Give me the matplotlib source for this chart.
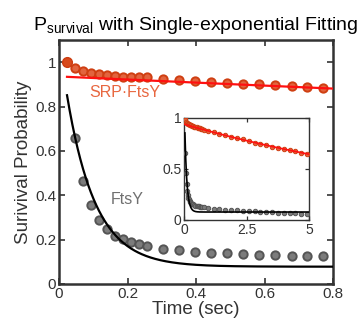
import numpy as np
import matplotlib
matplotlib.use("Agg")
import matplotlib.pyplot as plt

plt.rcParams['font.family'] = ['Liberation Sans', 'DejaVu Sans']
plt.rcParams['mathtext.fontset'] = 'custom'
plt.rcParams['mathtext.rm'] = 'Liberation Sans'

# ---- data ----
time_main = [0.0234, 0.0468, 0.0702, 0.0936, 0.117, 0.140, 0.164, 0.187, 0.211, 0.234,
             0.257, 0.304, 0.351, 0.398, 0.444, 0.491, 0.538, 0.585, 0.632, 0.679,
             0.725, 0.772]
srp_main = [1.000, 0.976, 0.961, 0.952, 0.949, 0.943, 0.940, 0.934, 0.932, 0.932,
            0.931, 0.922, 0.919, 0.913, 0.910, 0.907, 0.902, 0.900, 0.896, 0.892,
            0.889, 0.884]
ftsy_main = [1.000, 0.656, 0.464, 0.356, 0.288, 0.246, 0.218, 0.201, 0.189, 0.179,
             0.170, 0.158, 0.152, 0.146, 0.141, 0.138, 0.135, 0.132, 0.129, 0.128,
             0.128, 0.126]

# extra long-time points shown only in the inset
time_long = [0.94, 1.17, 1.40, 1.64, 1.87, 2.11, 2.34, 2.57, 2.81, 3.04, 3.28, 3.51,
             3.74, 3.98, 4.21, 4.45, 4.68, 4.91]
srp_long = [0.872, 0.857, 0.842, 0.827, 0.813, 0.798, 0.787, 0.772, 0.757, 0.744,
            0.731, 0.718, 0.706, 0.694, 0.682, 0.670, 0.658, 0.648]
ftsy_long = [0.118, 0.112, 0.106, 0.102, 0.098, 0.094, 0.090, 0.087, 0.084, 0.080,
             0.077, 0.075, 0.072, 0.070, 0.067, 0.064, 0.062, 0.060]

# single-exponential fit parameters: y = amp * exp(-rate * (t - t0)) + offset
fit_t0 = 0.0234
srp_fit_amp, srp_fit_rate, srp_fit_offset = 0.934, 0.0752, 0.0
ftsy_fit_amp, ftsy_fit_rate, ftsy_fit_offset = 0.773, 12.0, 0.078

main_xticks = [0, 0.2, 0.4, 0.6, 0.8]
main_xticklabels = ['0', '0.2', '0.4', '0.6', '0.8']
main_yticks = [0, 0.2, 0.4, 0.6, 0.8, 1.0]
main_yticklabels = ['0', '0.2', '0.4', '0.6', '0.8', '1']
inset_xticks = [0, 2.5, 5]
inset_xticklabels = ['0', '2.5', '5']
inset_yticks = [0, 0.5, 1]
inset_yticklabels = ['0', '0.5', '1']

# ---- styles ----
red_face = '#e2643e'
red_edge = '#cf3f12'
gray_face = '#7c7c7c'
gray_edge = '#555555'
fit_red = '#ff1010'
spine_col = '#333333'


def exp_fit(t, a, k, c):
    return a * np.exp(-k * (np.asarray(t) - fit_t0)) + c


fig = plt.figure(figsize=(3.6, 3.24), dpi=100)
ax = fig.add_axes([0.1639, 0.1235, 0.7611, 0.7530])

t_fit = np.linspace(fit_t0, 0.8, 300)
ax.plot(time_main[1:], ftsy_main[1:], 'o', ms=6.0, mfc=gray_face, mec=gray_edge, mew=1.4, zorder=3)
ax.plot(t_fit, exp_fit(t_fit, ftsy_fit_amp, ftsy_fit_rate, ftsy_fit_offset), color='black', lw=1.6, zorder=4)
ax.plot(time_main[1:], srp_main[1:], 'o', ms=6.0, mfc=red_face, mec=red_edge, mew=1.4, zorder=3)
ax.plot(time_main[:1], srp_main[:1], 'o', ms=7.0, mfc='#d84a1c', mec='#cc3c10', mew=1.0, zorder=3)
ax.plot(t_fit, exp_fit(t_fit, srp_fit_amp, srp_fit_rate, srp_fit_offset), color=fit_red, lw=1.6, zorder=4)

ax.set_xlim(0, 0.8)
ax.set_ylim(0, 1.1)
ax.set_xticks(main_xticks)
ax.set_xticklabels(main_xticklabels)
ax.set_yticks(main_yticks)
ax.set_yticklabels(main_yticklabels)
ax.tick_params(direction='in', length=4.5, width=1.2, color=spine_col, labelsize=11,
               labelcolor='#333333', top=True, right=True, pad=2)
for s in ax.spines.values():
    s.set_linewidth(1.8)
    s.set_color(spine_col)
ax.set_xlabel('Time (sec)', fontsize=13.5, color='#333333', labelpad=0)
ax.set_ylabel('Surivival Probability', fontsize=13.5, color='#333333', labelpad=2)
ax.set_title(r'P$_\mathrm{survival}$ with Single-exponential Fitting', fontsize=14, pad=7)

ax.text(0.193, 0.865, 'SRP·FtsY', color='#e8663f', fontsize=11.5, ha='center', va='center')
ax.text(0.200, 0.383, 'FtsY', color='#707070', fontsize=11.5, ha='center', va='center')

# ---- inset ----
ins = fig.add_axes([0.512, 0.321, 0.347, 0.3157])
t_in = list(time_main) + list(time_long)
srp_in = list(srp_main) + list(srp_long)
ftsy_in = list(ftsy_main) + list(ftsy_long)
t_fit2 = np.linspace(fit_t0, 5, 600)
ins.plot(t_in[1:], ftsy_in[1:], 'o', ms=3.2, mfc=gray_face, mec=gray_edge, mew=0.7, zorder=3)
ins.plot(t_fit2, exp_fit(t_fit2, ftsy_fit_amp, ftsy_fit_rate, ftsy_fit_offset), color='black', lw=1.2, zorder=4)
ins.plot(t_in, srp_in, 'o', ms=3.2, mfc=red_face, mec=red_edge, mew=0.7, zorder=3)
ins.plot(t_fit2, exp_fit(t_fit2, srp_fit_amp, srp_fit_rate, srp_fit_offset), color=fit_red, lw=1.2, zorder=4)
ins.set_xlim(0, 5)
ins.set_ylim(0, 1)
ins.set_xticks(inset_xticks)
ins.set_xticklabels(inset_xticklabels)
ins.set_yticks(inset_yticks)
ins.set_yticklabels(inset_yticklabels)
ins.tick_params(direction='in', length=3, width=0.9, color=spine_col, labelsize=10,
                labelcolor='#333333', top=True, right=True, pad=2)
for s in ins.spines.values():
    s.set_linewidth(1.0)
    s.set_color(spine_col)

fig.savefig('out.png', dpi=100)
